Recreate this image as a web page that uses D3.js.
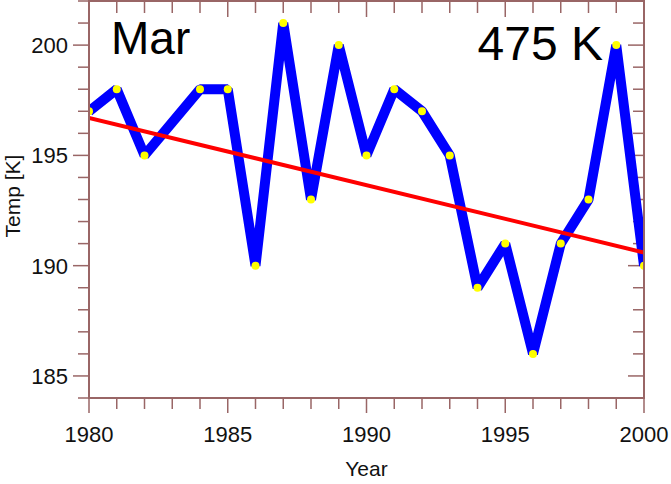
<!DOCTYPE html>
<html><head><meta charset="utf-8">
<script src="https://cdn.jsdelivr.net/npm/d3@7"></script>
<style>html,body{margin:0;padding:0;background:#fff;} svg{display:block;}</style>
</head><body>
<script>
const years = [1980,1981,1982,1984,1985,1986,1987,1988,1989,1990,1991,1992,1993,1994,1995,1996,1997,1998,1999,2000];
const temps = [197,198,195,198,198,190,201,193,200,195,198,197,195,189,191,186,191,193,200,190];
const trendYears = [1980,2000];
const trendTemps = [196.7,190.6];
const xTickLabels = [1980,1985,1990,1995,2000];
const yTickLabels = [185,190,195,200];
const monthLabel = "Mar";
const levelLabel = "475 K";

const W=671,H=484;
const L=89,R=644,T=1,B=398;
const frame="#996666";
const font="'Liberation Sans', Arial, sans-serif";
const svg=d3.select("body").append("svg").attr("width",W).attr("height",H);
const x=d3.scaleLinear().domain([1980,2000]).range([L,R]);
const y=d3.scaleLinear().domain([184,202]).range([B,T]);

// ticks
const xt=d3.range(1980,2001,1), yt=d3.range(184,203,1);
const g=svg.append("g").attr("stroke",frame).attr("stroke-width",1.5);
xt.forEach(v=>{const maj=v%5===0; const px=x(v);
  g.append("line").attr("x1",px).attr("x2",px).attr("y1",B).attr("y2",B+(maj?15:11));
  g.append("line").attr("x1",px).attr("x2",px).attr("y1",T).attr("y2",T+(maj?16:12));});
yt.forEach(v=>{const maj=v%5===0; const py=y(v);
  g.append("line").attr("y1",py).attr("y2",py).attr("x1",L).attr("x2",L-(maj?16:11));
  g.append("line").attr("y1",py).attr("y2",py).attr("x1",R).attr("x2",R-(maj?16:11));});

// tick labels
svg.append("g").selectAll("text").data(xTickLabels).join("text")
  .attr("x",d=>x(d)).attr("y",442).attr("text-anchor","middle")
  .attr("font-family",font).attr("font-size",22).attr("fill","#111").text(d=>d);
svg.append("g").selectAll("text").data(yTickLabels).join("text")
  .attr("x",68).attr("y",d=>y(d)+8).attr("text-anchor","end")
  .attr("font-family",font).attr("font-size",22).attr("fill","#111").text(d=>d);

svg.append("text").attr("x",(L+R)/2).attr("y",476).attr("text-anchor","middle")
  .attr("font-family",font).attr("font-size",21).attr("fill","#111").text("Year");
svg.append("text").attr("transform",`translate(20,196) rotate(-90)`).attr("text-anchor","middle")
  .attr("font-family",font).attr("font-size",21).attr("fill","#111").text("Temp [K]");

// data line
svg.append("clipPath").attr("id","pc").append("rect").attr("x",L).attr("y",T).attr("width",R-L).attr("height",B-T);
const plot=svg.append("g").attr("clip-path","url(#pc)");
const line=d3.line().x(d=>x(d[0])).y(d=>y(d[1]));
const pts=years.map((yr,i)=>[yr,temps[i]]);
plot.append("path").datum(pts).attr("d",line).attr("fill","none")
  .attr("stroke","#0000ff").attr("stroke-width",10).attr("stroke-linejoin","bevel");
// trend
plot.append("path").datum(trendYears.map((yr,i)=>[yr,trendTemps[i]])).attr("d",line)
  .attr("fill","none").attr("stroke","#ff0000").attr("stroke-width",4);
// dots
plot.append("g").selectAll("circle").data(pts).join("circle")
  .attr("cx",d=>x(d[0])).attr("cy",d=>y(d[1])).attr("r",4).attr("fill","#ffff00");

svg.append("rect").attr("x",L).attr("y",T).attr("width",R-L).attr("height",B-T)
  .attr("fill","none").attr("stroke",frame).attr("stroke-width",2);

svg.append("text").attr("x",111).attr("y",54).attr("font-family",font).attr("font-size",46).attr("fill","#000").text(monthLabel);
svg.append("text").attr("x",603).attr("y",60).attr("text-anchor","end").attr("font-family",font).attr("font-size",48).attr("fill","#000").text(levelLabel);
</script>
</body></html>
